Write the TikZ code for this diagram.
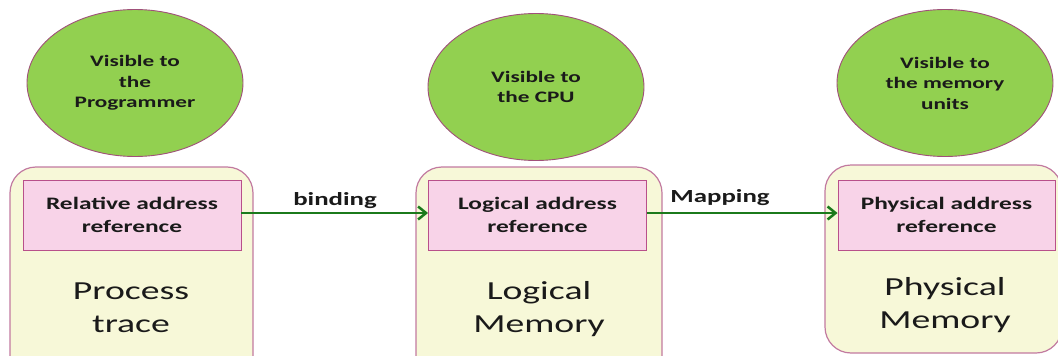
\documentclass[tikz,border=0pt]{standalone}
\usepackage{fontspec}
\setmainfont{Carlito}
\newfontfamily\widefont[FakeStretch=1.45]{Carlito}
\usetikzlibrary{shapes.geometric,arrows.meta}
\definecolor{ellfill}{HTML}{92D050}
\definecolor{ellline}{HTML}{A0507A}
\definecolor{outfill}{HTML}{F7F8D8}
\definecolor{outline}{HTML}{C27AA0}
\definecolor{infill}{HTML}{F8D3E8}
\definecolor{inline}{HTML}{B8508A}
\definecolor{arrgreen}{HTML}{1B7A1B}
\definecolor{txt}{HTML}{1A1A1A}
\tikzset{
  ell/.style={ellipse, draw=ellline, line width=0.9pt, fill=ellfill, minimum width=216pt, minimum height=147pt, inner sep=0pt, align=center, font=\widefont\bfseries\fontsize{16}{20.5}\selectfont, text=txt},
  outbox/.style={draw=outline, line width=1.2pt, fill=outfill, rounded corners=26pt},
  inbox/.style={rectangle, draw=inline, line width=0.9pt, fill=infill, minimum width=218pt, minimum height=70pt, inner sep=0pt, align=center, font=\widefont\bfseries\fontsize{17.5}{23}\selectfont, text=txt},
  bigtxt/.style={align=center, font=\widefont\fontsize{26}{33}\selectfont, text=txt},
  lbl/.style={font=\widefont\bfseries\fontsize{18.5}{20}\selectfont, text=txt},
  conn/.style={draw=arrgreen, line width=2.5pt, -{Straight Barb[length=8pt,width=13pt,line width=2.5pt]}}
}
\begin{document}
\begin{tikzpicture}[x=1pt,y=-1pt]
\useasboundingbox (0,0) rectangle (1058,356);
\clip (0,0) rectangle (1058,356);
% outer boxes
\draw[outbox] (10,167) rectangle (253,385);
\draw[outbox] (416,167) rectangle (662,385);
\draw[outbox] (825,165) rectangle (1062,353);
% ellipses
\node[ell] (e1) at (135,83) {Visible to\\the\\Programmer};
\node[ell] (e2) at (536,87) {Visible to\\the CPU};
\node[ell] (e3) at (945,83) {Visible to\\the memory\\units};
% inner boxes
\node[inbox] (r1) at (132,215) {Relative address\\reference};
\node[inbox] (r2) at (537.5,215) {Logical address\\reference};
\node[inbox, minimum width=217pt] (r3) at (946.5,215) {Physical address\\reference};
% big texts
\node[bigtxt] (t1) at (131,308) {Process\\trace};
\node[bigtxt] (t2) at (539,309) {Logical\\Memory};
\node[bigtxt] (t3) at (945,305) {Physical\\Memory};
% connectors
\draw[conn] (r1.east |- 0,213) -- (r2.west |- 0,213);
\draw[conn] (r2.east |- 0,213) -- (r3.west |- 0,213);
\node[lbl] (b) at (335,201) {binding};
\node[lbl] (m) at (720,198) {Mapping};
\end{tikzpicture}
\end{document}
